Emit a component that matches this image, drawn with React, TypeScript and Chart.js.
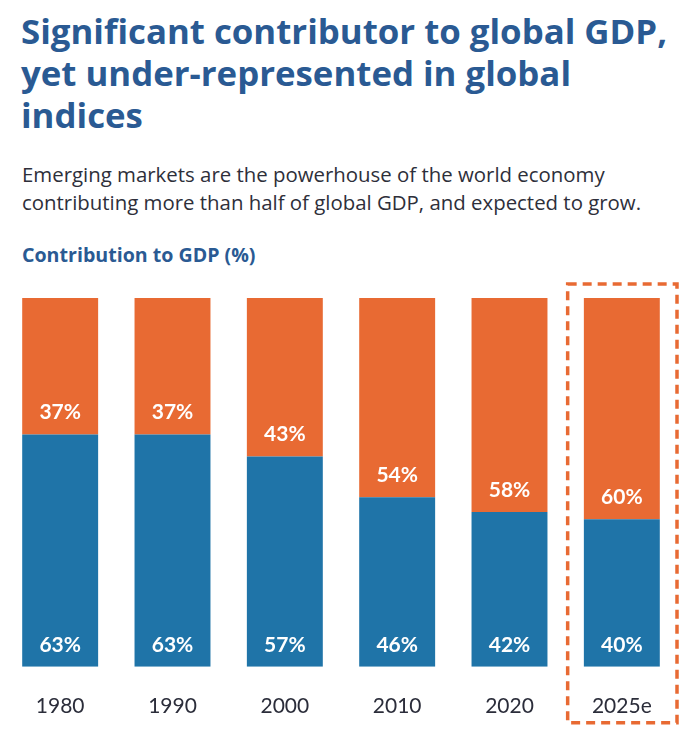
import React, { useEffect, useRef } from "react";
import { Chart, registerables } from "chart.js";

Chart.register(...registerables);

const years = ["1980", "1990", "2000", "2010", "2020", "2025e"];
const developedShare = [63, 63, 57, 46, 42, 40];
const emergingShare = [37, 37, 43, 54, 58, 60];

const BLUE = "#1f74a8";
const ORANGE = "#e86a33";
const TITLE_BLUE = "#2a5a93";
const FONT = "Lato, 'Open Sans', sans-serif";
const TEXT_FONT = "'Open Sans', Lato, sans-serif";

const segmentLabels = {
  id: "segmentLabels",
  afterDatasetsDraw(chart: any) {
    const ctx = chart.ctx;
    ctx.save();
    ctx.fillStyle = "#ffffff";
    ctx.font = `bold 21px ${FONT}`;
    ctx.textAlign = "center";
    ctx.textBaseline = "middle";
    chart.data.datasets.forEach((ds: any, di: number) => {
      const meta = chart.getDatasetMeta(di);
      meta.data.forEach((el: any, i: number) => {
        ctx.fillText(`${ds.data[i]}%`, el.x, el.base - 22);
      });
    });
    ctx.restore();
  },
};

const highlightBox = {
  id: "highlightBox",
  afterDraw(chart: any) {
    const ctx = chart.ctx;
    const xs = chart.scales.x;
    const idx = years.length - 1;
    const cx = xs.getPixelForValue(idx);
    const half = (xs.getPixelForValue(1) - xs.getPixelForValue(0)) / 2;
    const left = cx - half + 2;
    const right = cx + half - 1;
    const top = chart.chartArea.top - 14;
    const bottom = chart.chartArea.bottom + 56;
    ctx.save();
    ctx.strokeStyle = ORANGE;
    ctx.lineWidth = 3.5;
    ctx.setLineDash([9, 6]);
    ctx.strokeRect(left, top, right - left, bottom - top);
    ctx.restore();
  },
};

export default function App() {
  const ref = useRef<HTMLCanvasElement>(null);

  useEffect(() => {
    if (!ref.current) return;
    const chart = new Chart(ref.current, {
      type: "bar",
      data: {
        labels: years,
        datasets: [
          {
            label: "Developed",
            data: developedShare,
            backgroundColor: BLUE,
            barPercentage: 0.676,
            categoryPercentage: 1,
          },
          {
            label: "Emerging",
            data: emergingShare,
            backgroundColor: ORANGE,
            barPercentage: 0.676,
            categoryPercentage: 1,
          },
        ],
      },
      options: {
        animation: false,
        responsive: false,
        maintainAspectRatio: false,
        layout: { padding: { left: 4, right: 22, top: 28, bottom: 4 } },
        plugins: {
          legend: { display: false },
          tooltip: { enabled: false },
        },
        scales: {
          x: {
            stacked: true,
            grid: { display: false, drawTicks: false },
            border: { display: false },
            ticks: {
              color: "#2b2d3a",
              font: { family: FONT, size: 21 },
              padding: 27,
            },
          },
          y: {
            stacked: true,
            display: false,
            min: 0,
            max: 100,
          },
        },
      },
      plugins: [segmentLabels, highlightBox],
    });
    return () => chart.destroy();
  }, []);

  return (
    <div
      style={{
        position: "absolute",
        left: 0,
        top: 0,
        width: 700,
        height: 750,
        background: "#fff",
        fontFamily: TEXT_FONT,
        overflow: "hidden",
      }}
    >
      <div
        style={{
          position: "absolute",
          left: 21,
          top: 10,
          width: 679,
          color: TITLE_BLUE,
          fontWeight: 700,
          fontSize: 34.8,
          lineHeight: "42px",
          whiteSpace: "nowrap",
        }}
      >
        Significant contributor to global GDP,
        <br />
        yet under-represented in global
        <br />
        indices
      </div>
      <div
        style={{
          position: "absolute",
          left: 22,
          top: 160,
          width: 675,
          color: "#2e2f3a",
          fontSize: 20.4,
          lineHeight: "28px",
          whiteSpace: "nowrap",
        }}
      >
        Emerging markets are the powerhouse of the world economy
        <br />
        contributing more than half of global GDP, and expected to grow.
      </div>
      <div
        style={{
          position: "absolute",
          left: 22,
          top: 242,
          color: TITLE_BLUE,
          fontWeight: 700,
          fontSize: 19.6,
          lineHeight: "26px",
        }}
      >
        Contribution to GDP (%)
      </div>
      <canvas
        ref={ref}
        width={700}
        height={480}
        style={{ position: "absolute", left: 0, top: 270, width: 700, height: 480 }}
      />
    </div>
  );
}
